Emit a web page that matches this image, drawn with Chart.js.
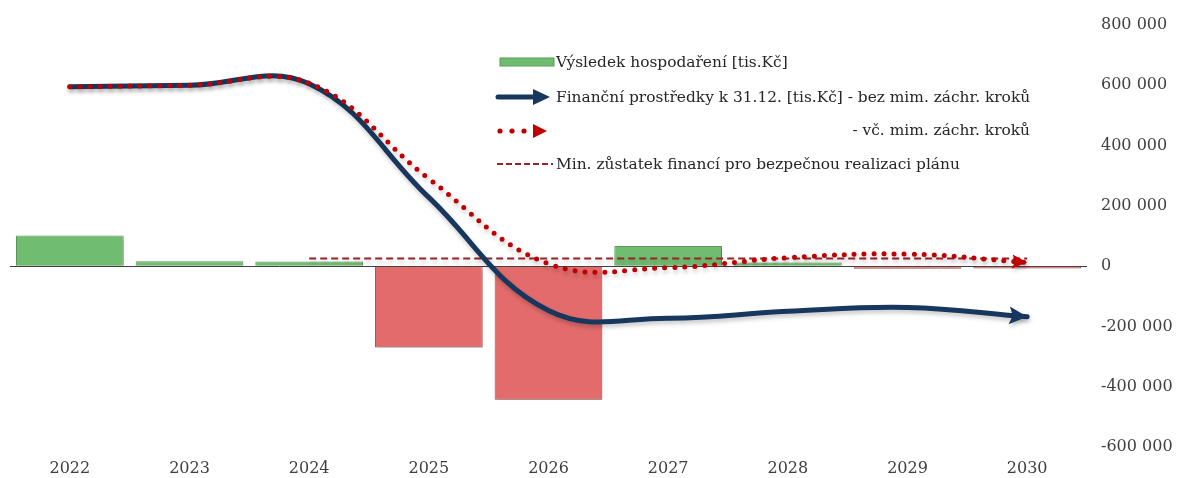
<!DOCTYPE html>
<html>
<head>
<meta charset="utf-8">
<script src="https://cdn.jsdelivr.net/npm/chart.js@4.4.0/dist/chart.umd.min.js"></script>
<style>
  html, body { margin: 0; padding: 0; background: #fff; }
  #wrap { position: relative; width: 1184px; height: 478px; }
  #legend { position: absolute; left: 0; top: 0; width: 1184px; height: 478px; pointer-events: none;
            font-family: "DejaVu Serif", serif; font-size: 15.4px; color: #262626; }
  .sym { position: absolute; }
  .txt { position: absolute; white-space: nowrap; line-height: 18px; }
</style>
</head>
<body>
<div id="wrap">
  <canvas id="chart" width="1184" height="478"></canvas>
  <div id="legend">
    <svg class="sym" style="left:498px; top:56px" width="58" height="12">
      <rect x="2" y="2" width="54" height="8" fill="#6FBB6F" stroke="#5A9C5A" stroke-width="1"/>
    </svg>
    <div class="txt" style="left:556px; top:53px">Výsledek hospodaření [tis.Kč]</div>

    <svg class="sym" style="left:495px; top:88px" width="58" height="18">
      <line x1="3" y1="9" x2="42" y2="9" stroke="#17375E" stroke-width="5" stroke-linecap="round"/>
      <polygon points="38,1 55,9 38,17" fill="#17375E"/>
    </svg>
    <div class="txt" style="left:556px; top:88px">Finanční prostředky k 31.12. [tis.Kč] - bez mim. záchr. kroků</div>

    <svg class="sym" style="left:495px; top:122px" width="58" height="18">
      <circle cx="5" cy="9" r="2.6" fill="#C00000"/>
      <circle cx="17" cy="9" r="2.6" fill="#C00000"/>
      <circle cx="29" cy="9" r="2.6" fill="#C00000"/>
      <polygon points="38,2 52,9 38,16" fill="#C00000"/>
    </svg>
    <div class="txt" style="right:154px; top:121px">- vč. mim. záchr. kroků</div>

    <svg class="sym" style="left:495px; top:156px" width="60" height="16">
      <line x1="2" y1="8" x2="58" y2="8" stroke="#9B2226" stroke-width="2" stroke-dasharray="6,3"/>
    </svg>
    <div class="txt" style="left:556px; top:155px">Min. zůstatek financí pro bezpečnou realizaci plánu</div>
  </div>
</div>
<script>
// Data
const years = ['2022', '2023', '2024', '2025', '2026', '2027', '2028', '2029', '2030'];
const vysledekHospodareni = [102000, 16000, 15000, -270000, -443000, 67000, 12000, -9000, -8000];
const prostredkyBezKroku = [595000, 600000, 605000, 228000, -147000, -173000, -150000, -137000, -168000];
const prostredkyVcKroku = [595000, 600000, 607000, 290000, 8000, -5000, 28000, 40000, 12000];
const minZustatek = [null, null, 25000, 25000, 25000, 25000, 25000, 25000, 25000];
const yTicks = [-600000, -400000, -200000, 0, 200000, 400000, 600000, 800000];

function formatCz(v) {
    const s = String(Math.abs(v)).replace(/\B(?=(\d{3})+(?!\d))/g, ' ');
    return (v < 0 ? '-' : '') + s;
}

// shadow under every dataset + arrowheads at the end of the cash lines
const shadowArrowPlugin = {
    id: 'shadowArrow',
    beforeDatasetDraw(chart, args) {
        const ctx = chart.ctx;
        ctx.save();
        ctx.shadowColor = 'rgba(0,0,0,0.22)';
        ctx.shadowBlur = 4;
        ctx.shadowOffsetX = 1;
        ctx.shadowOffsetY = 3;
    },
    afterDatasetDraw(chart, args) {
        const ctx = chart.ctx;
        const ds = chart.data.datasets[args.index];
        if (ds.arrowColor) {
            const pts = args.meta.data;
            const p = pts[pts.length - 1];
            let fx = p.cp1x, fy = p.cp1y;
            if (fx === undefined || (fx === p.x && fy === p.y)) {
                fx = pts[pts.length - 2].x; fy = pts[pts.length - 2].y;
            }
            const ang = Math.atan2(p.y - fy, p.x - fx);
            const len = ds.arrowLen, half = ds.arrowHalf;
            ctx.translate(p.x, p.y);
            ctx.rotate(ang);
            ctx.beginPath();
            ctx.moveTo(0, 0);
            ctx.lineTo(-len, -half);
            ctx.lineTo(-len * 0.8, 0);
            ctx.lineTo(-len, half);
            ctx.closePath();
            ctx.fillStyle = ds.arrowColor;
            ctx.fill();
        }
        ctx.restore();
    }
};

const ctx = document.getElementById('chart').getContext('2d');
new Chart(ctx, {
    type: 'bar',
    data: {
        labels: years,
        datasets: [
            {
                type: 'bar',
                label: 'Výsledek hospodaření [tis.Kč]',
                data: vysledekHospodareni,
                backgroundColor: vysledekHospodareni.map(v => v >= 0 ? '#70BC70' : '#E36B6B'),
                borderColor: vysledekHospodareni.map(v => v >= 0 ? '#5A9C5A' : '#B85656'),
                borderWidth: 1,
                barPercentage: 0.9,
                categoryPercentage: 1.0,
                order: 4
            },
            {
                type: 'line',
                label: 'Min. zůstatek financí pro bezpečnou realizaci plánu',
                data: minZustatek,
                borderColor: '#9B2226',
                borderWidth: 2,
                borderDash: [7, 4],
                pointRadius: 0,
                tension: 0,
                order: 3
            },
            {
                type: 'line',
                label: 'Finanční prostředky k 31.12. [tis.Kč] - bez mim. záchr. kroků',
                data: prostredkyBezKroku,
                borderColor: '#17375E',
                borderWidth: 5,
                borderCapStyle: 'round',
                pointRadius: 0,
                tension: 0.4,
                arrowColor: '#17375E',
                arrowLen: 18,
                arrowHalf: 9,
                order: 2
            },
            {
                type: 'line',
                label: '- vč. mim. záchr. kroků',
                data: prostredkyVcKroku,
                borderColor: '#C00000',
                borderWidth: 5,
                borderCapStyle: 'round',
                borderDash: [0, 10],
                pointRadius: 0,
                tension: 0.4,
                arrowColor: '#C00000',
                arrowLen: 15,
                arrowHalf: 7,
                order: 1
            }
        ]
    },
    options: {
        responsive: false,
        animation: false,
        devicePixelRatio: 1,
        layout: { padding: { top: 25, left: 10, right: 0, bottom: 0 } },
        plugins: {
            legend: { display: false },
            tooltip: { enabled: false }
        },
        scales: {
            x: {
                offset: true,
                grid: { display: false },
                border: { display: false },
                ticks: { color: '#404040', font: { family: 'DejaVu Serif', size: 16 }, padding: 4 },
                afterFit: axis => { axis.height = 31; }
            },
            y: {
                position: 'right',
                min: -600000,
                max: 800000,
                afterBuildTicks: axis => { axis.ticks = yTicks.map(v => ({ value: v })); },
                grid: {
                    drawTicks: false,
                    color: c => c.tick && c.tick.value === 0 ? '#404040' : 'rgba(0,0,0,0)',
                    lineWidth: 1
                },
                border: { display: false },
                ticks: {
                    color: '#404040',
                    font: { family: 'DejaVu Serif', size: 16 },
                    padding: 14,
                    callback: v => formatCz(v)
                },
                afterFit: axis => { axis.width = 97; }
            }
        }
    },
    plugins: [shadowArrowPlugin]
});
</script>
</body>
</html>
